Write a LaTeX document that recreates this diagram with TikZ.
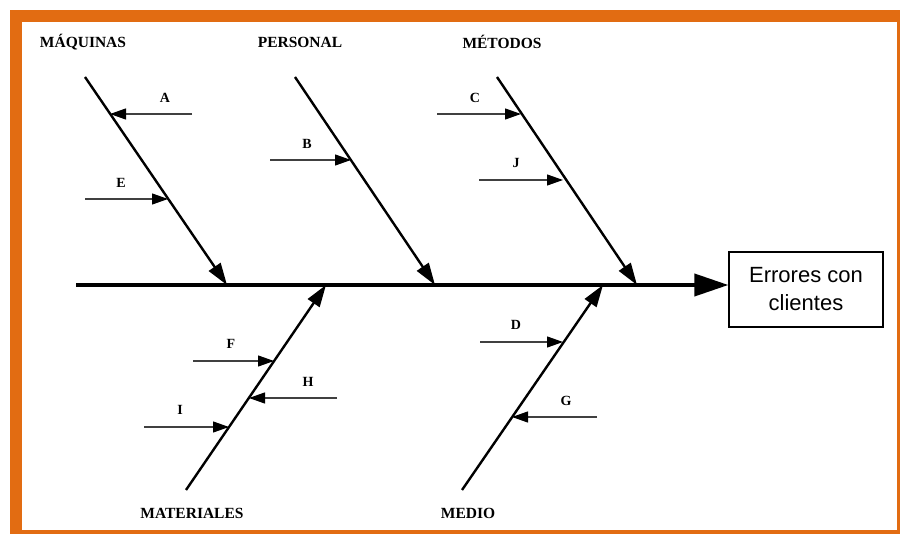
\documentclass[tikz,border=0pt]{standalone}
\usepackage{fontspec}
\setmainfont{Liberation Serif}
\newfontfamily\boxfont{Liberation Sans}
\usetikzlibrary{arrows.meta}
\definecolor{frameorange}{RGB}{226,108,18}
\begin{document}
\begin{tikzpicture}[x=1pt,y=-1pt,
  spine/.style={line width=3.8pt,-{Triangle[length=34pt,width=22pt]}},
  bone/.style={line width=2.4pt,-{Triangle[length=22pt,width=14pt]}},
  cause/.style={line width=1.2pt,draw=black!75,-{Triangle[length=16pt,width=11pt,color=black]}},
  cat/.style={font=\bfseries\fontsize{15.5}{18}\selectfont,inner sep=0pt},
  lett/.style={font=\bfseries\fontsize{14}{16}\selectfont,inner sep=0pt},
  effect/.style={draw,line width=1.2pt,minimum width=154pt,minimum height=75pt,align=center,
    font=\boxfont\fontsize{22}{28}\selectfont}]
\useasboundingbox (0,0) rectangle (900,534);
\fill[frameorange] (10,10) rectangle (900,534);
\fill[white] (22,22) rectangle (897,530);
% effect
\node[effect] (eff) at (806,289.5) {Errores con\\clientes};
% spine
\coordinate (s0) at (76,285);
\draw[spine] (s0) -- (eff.west |- s0);
% bones
\coordinate (m0) at (85,77);   \coordinate (m1) at (227,285);
\coordinate (p0) at (295,77);  \coordinate (p1) at (435,285);
\coordinate (t0) at (497,77);  \coordinate (t1) at (637,285);
\coordinate (a0) at (186,490); \coordinate (a1) at (326,285);
\coordinate (d0) at (462,490); \coordinate (d1) at (603,285);
\draw[bone] (m0) -- (m1);
\draw[bone] (p0) -- (p1);
\draw[bone] (t0) -- (t1);
\draw[bone] (a0) -- (a1);
\draw[bone] (d0) -- (d1);
% category labels
\node[cat] (lm) at (83,42) {MÁQUINAS};
\node[cat] (lp) at (300,42) {PERSONAL};
\node[cat] (lt) at (502,42) {MÉTODOS};
\node[cat] (la) at (192,513) {MATERIALES};
\node[cat] (ld) at (468,513) {MEDIO};
% causes
\coordinate (A0) at (192,114); \coordinate (A1) at (110,114);
\coordinate (E0) at (85,199);  \coordinate (E1) at (168,199);
\coordinate (B0) at (270,160); \coordinate (B1) at (351,160);
\coordinate (C0) at (437,114); \coordinate (C1) at (521,114);
\coordinate (J0) at (479,180); \coordinate (J1) at (563,180);
\coordinate (F0) at (193,361); \coordinate (F1) at (274,361);
\coordinate (H0) at (337,398); \coordinate (H1) at (249,398);
\coordinate (I0) at (144,427); \coordinate (I1) at (229,427);
\coordinate (D0) at (480,342); \coordinate (D1) at (563,342);
\coordinate (G0) at (597,417); \coordinate (G1) at (512,417);
\foreach \c in {A,E,B,C,J,F,H,I,D,G}{\draw[cause] (\c0) -- (\c1);}
\node[lett] (tA) at (165,98) {A};
\node[lett] (tE) at (121,183) {E};
\node[lett] (tB) at (307,144) {B};
\node[lett] (tC) at (475,98) {C};
\node[lett] (tJ) at (516,163) {J};
\node[lett] (tF) at (231,344) {F};
\node[lett] (tH) at (308,382) {H};
\node[lett] (tI) at (180,410) {I};
\node[lett] (tD) at (516,325) {D};
\node[lett] (tG) at (566,401) {G};
\end{tikzpicture}
\end{document}
